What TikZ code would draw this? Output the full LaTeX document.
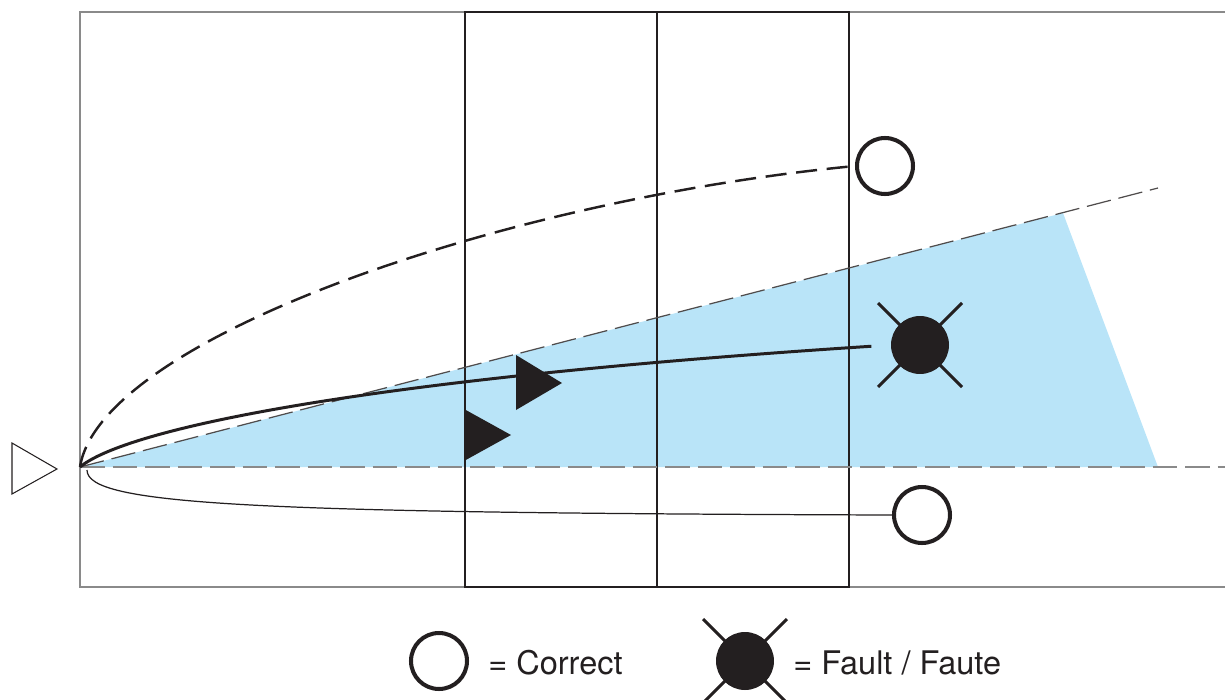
\documentclass[tikz,border=0pt]{standalone}
\usepackage{fontspec}
\setmainfont{TeX Gyre Heros}
\definecolor{courtgray}{HTML}{8A8A8A}
\definecolor{inkblack}{HTML}{231F20}
\definecolor{zoneblue}{HTML}{B9E4F8}
\tikzset{
  correct/.style={circle,draw=inkblack,line width=2.3pt,minimum size=1.12cm,inner sep=0pt},
  fault/.style={circle,fill=inkblack,minimum size=1.16cm,inner sep=0pt},
  legendtext/.style={anchor=west,inner sep=0pt,font=\fontsize{18.5}{22}\selectfont,text=inkblack},
  serve/.style={fill=inkblack,draw=none}
}
\begin{document}
\begin{tikzpicture}[x=0.02cm,y=-0.02cm]
        \useasboundingbox (0,0) rectangle (1225,700);

        % court
        \fill[zoneblue] (80,467) -- (1063,213) -- (1158,467) -- cycle;
        \draw[courtgray,line width=0.85pt] (1225,12) -- (80,12) -- (80,587) -- (1225,587);
        \draw[inkblack,line width=0.7pt] (465,12) rectangle (849,587);
        \draw[inkblack,line width=0.7pt] (657,12) -- (657,587);

        \coordinate (O) at (80,467);
        \coordinate (O2) at (87,470);
        \coordinate (far) at (1158,188);
        \coordinate (side) at (1225,467);

        \begin{scope}[every node/.style={correct}]
          \node (top)  at (885,166) {};
          \node (low)  at (922,515) {};
          \node (key1) at (439,661) {};
        \end{scope}

        \begin{scope}[every node/.style={fault}]
          \node (hit)  at (920,345) {};
          \node (key2) at (745,661) {};
        \end{scope}

        \foreach \f in {hit,key2}
          \draw[inkblack,line width=1.7pt] (\f) ++(-42,-42) -- ++(84,84)
                                           (\f) ++(42,-42) -- ++(-84,84);

        % lines of play
        \draw[courtgray,line width=0.8pt,dash pattern=on 14pt off 4.5pt] (O) -- (side);
        \draw[inkblack!80,line width=0.7pt,dash pattern=on 14pt off 4.5pt] (O) -- (far);
        \draw[inkblack,line width=1.4pt,dash pattern=on 12pt off 5.5pt]
          (O) .. controls (100,340) and (500,200) .. (top.west);
        \draw[inkblack,line width=1.7pt,shorten >=11pt]
          (O) .. controls (125,430) and (350,380) .. (hit.west);
        \draw[inkblack,line width=0.7pt]
          (O2) .. controls (87,505) and (250,513) .. (low.west);

        % serve markers
        \fill[serve] (516,355) -- (516,410) -- (562,383) -- cycle;
        \fill[serve] (464,409) -- (464,461) -- (511,435) -- cycle;
        \draw[inkblack,line width=0.6pt] (12,443) -- (12,494) -- (57,469) -- cycle;

        % legend
        \begin{scope}[every node/.style={legendtext}]
          \node (key1text) at (488,663) {= Correct};
          \node (key2text) at (793,663) {= Fault / Faute};
        \end{scope}

      \end{tikzpicture}
\end{document}
